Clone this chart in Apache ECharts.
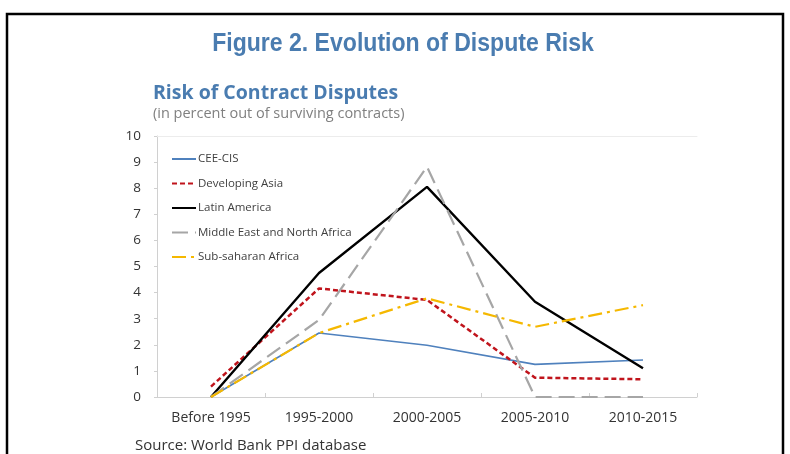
<!DOCTYPE html>
<html><head><meta charset="utf-8">
<script src="https://cdn.jsdelivr.net/npm/echarts@6/dist/echarts.min.js"></script>
<style>html,body{margin:0;padding:0;background:#fff}#c{width:790px;height:454px}</style>
</head><body><div id="c"></div>
<script>
const categories = ['Before 1995','1995-2000','2000-2005','2005-2010','2010-2015'];
const ceeCis = [0, 2.45, 1.98, 1.25, 1.42];
const devAsia = [0.4, 4.16, 3.72, 0.74, 0.68];
const latAm = [0, 4.75, 8.05, 3.65, 1.1];
const mena = [0, 2.95, 8.82, 0, 0];
const ssa = [0, 2.45, 3.78, 2.69, 3.52];
const yTicks = [0,1,2,3,4,5,6,7,8,9,10];

const font = "'Open Sans', 'Noto Sans', sans-serif";
const chart = echarts.init(document.getElementById('c'));
function mk(name, data, color, width, type) {
  return {name, type:'line', data, symbol:'none', animation:false,
    lineStyle:{color, width, type}, itemStyle:{color}};
}
chart.setOption({
  animation:false,
  graphic:[
    {type:'rect', shape:{x:7, y:14, width:776, height:460}, style:{fill:'none', stroke:'#000', lineWidth:2.5}},
    {type:'text', x:403, y:44, scaleX:0.87, style:{text:'Figure 2. Evolution of Dispute Risk', fill:'#4a7cb0', textAlign:'center', textVerticalAlign:'middle', font:"bold 26.5px 'Liberation Sans', sans-serif"}},
    {type:'text', x:153, y:93, style:{text:'Risk of Contract Disputes', fill:'#4a7cb0', textVerticalAlign:'middle', font:"bold 19.5px " + font}},
    {type:'text', x:153, y:114, style:{text:'(in percent out of surviving contracts)', fill:'#808080', textVerticalAlign:'middle', font:"14.5px " + font}},
    {type:'text', x:135, y:446, style:{text:'Source: World Bank PPI database', fill:'#333', textVerticalAlign:'middle', font:"15px " + font}}
  ],
  grid:{left:157, right:93, top:136, bottom:57},
  legend:{orient:'vertical', left:166, top:148, itemGap:12.5, itemWidth:24, itemHeight:12,
    itemStyle:{opacity:0},
    textStyle:{fontFamily:font, fontSize:11.5, color:'#404040', padding:[0,0,0,-3]},
    data:['CEE-CIS','Developing Asia','Latin America','Middle East and North Africa','Sub-saharan Africa']},
  xAxis:[{type:'category', data:categories, boundaryGap:true,
    axisLine:{lineStyle:{color:'#d0d0d0'}},
    axisTick:{show:true, inside:true, length:4, lineStyle:{color:'#d0d0d0'}},
    axisLabel:{color:'#333', fontFamily:font, fontSize:14, margin:14}},
    {type:'category', position:'top', data:categories, axisLine:{lineStyle:{color:'#ececec'}}, axisTick:{show:false}, axisLabel:{show:false}}],
  yAxis:{type:'value', min:0, max:10, interval:1,
    axisLine:{show:true, lineStyle:{color:'#d0d0d0'}},
    axisTick:{show:true, length:3, lineStyle:{color:'#d0d0d0'}},
    splitLine:{show:false},
    axisLabel:{color:'#333', fontFamily:font, fontSize:13.5, margin:16,
      formatter:v => yTicks.includes(v) ? String(v) : ''}},
  series:[
    mk('CEE-CIS', ceeCis, '#4f81bd', 1.6, 'solid'),
    mk('Developing Asia', devAsia, '#c0141c', 2.5, [5,3]),
    mk('Latin America', latAm, '#000000', 2.4, 'solid'),
    mk('Middle East and North Africa', mena, '#a6a6a6', 2.2, [16,7]),
    mk('Sub-saharan Africa', ssa, '#f5b800', 2.2, [14,5,3,5])
  ]
});
</script></body></html>
